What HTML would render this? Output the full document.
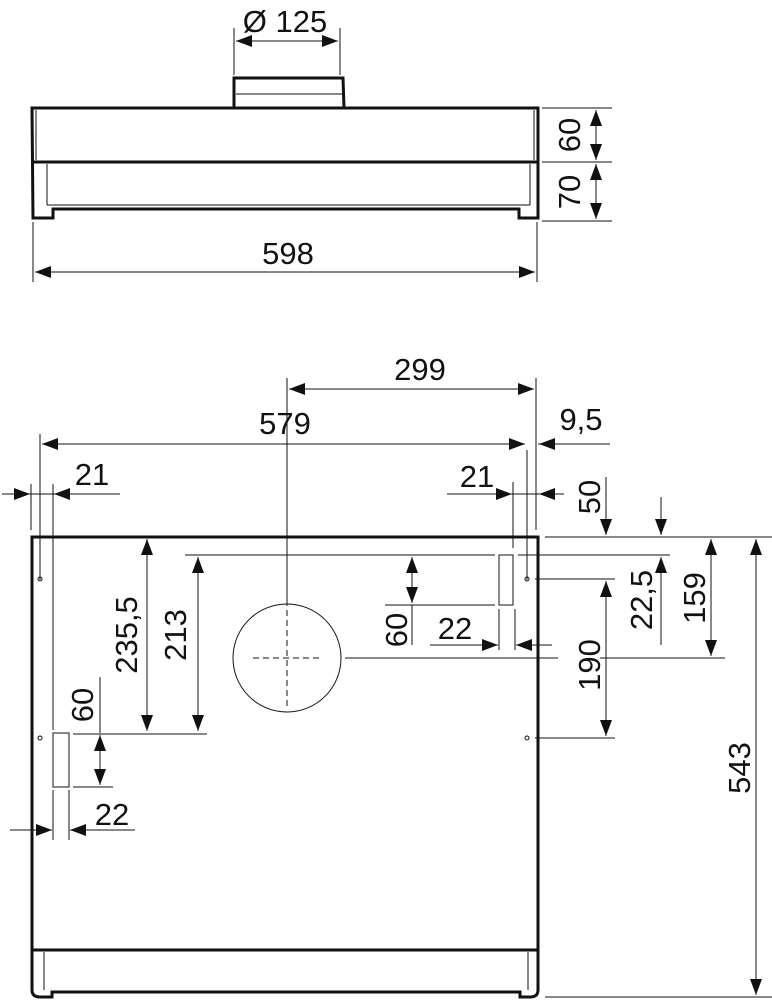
<!DOCTYPE html>
<html><head><meta charset="utf-8"><style>
html,body{margin:0;padding:0;background:#fff}
svg{display:block}
text{font-family:"Liberation Sans Narrow","Liberation Sans",sans-serif;font-size:31px;fill:#111}
.t{stroke:#111;stroke-width:1;fill:none}
.k{stroke:#111;stroke-width:3;fill:none}
</style></head><body>
<svg width="772" height="1000" viewBox="0 0 772 1000" xmlns="http://www.w3.org/2000/svg">
<defs>
<marker id="a" markerUnits="userSpaceOnUse" markerWidth="18" markerHeight="12" refX="16" refY="6" orient="auto-start-reverse"><path d="M0,0 L16,6 L0,12 Z" fill="#111"/></marker>
</defs>

<!-- TOP VIEW -->
<text x="285" y="32" text-anchor="middle">Ø 125</text>
<line class="t" x1="234" y1="28" x2="234" y2="75"/>
<line class="t" x1="340" y1="28" x2="340" y2="75"/>
<line class="t" x1="236" y1="41" x2="338" y2="41" marker-start="url(#a)" marker-end="url(#a)"/>
<path class="k" d="M234,108 L234,78 L343,78 L344,108"/>
<line class="t" x1="236" y1="94" x2="342" y2="94"/>
<path class="k" d="M32,108 L538,108 L538,218 L519,218 L519,209 L53,209 L53,218 L33,218 Z"/>
<line class="k" x1="32" y1="162" x2="538" y2="162"/>
<line class="t" x1="36" y1="110" x2="36" y2="160"/>
<line class="t" x1="534" y1="110" x2="534" y2="160"/>
<line class="t" x1="47" y1="164" x2="47" y2="205"/>
<line class="t" x1="530" y1="164" x2="530" y2="205"/>
<line class="t" x1="47" y1="205" x2="530" y2="205"/>
<line class="t" x1="542" y1="108" x2="612" y2="108"/>
<line class="t" x1="542" y1="162" x2="612" y2="162"/>
<line class="t" x1="542" y1="221" x2="612" y2="221"/>
<line class="t" x1="596" y1="110" x2="596" y2="160" marker-start="url(#a)" marker-end="url(#a)"/>
<line class="t" x1="596" y1="164" x2="596" y2="219" marker-start="url(#a)" marker-end="url(#a)"/>
<text transform="translate(580,135) rotate(-90)" text-anchor="middle">60</text>
<text transform="translate(580,192) rotate(-90)" text-anchor="middle">70</text>
<line class="t" x1="33" y1="222" x2="33" y2="282"/>
<line class="t" x1="537" y1="222" x2="537" y2="282"/>
<line class="t" x1="35" y1="272" x2="535" y2="272" marker-start="url(#a)" marker-end="url(#a)"/>
<text x="288" y="264" text-anchor="middle">598</text>

<!-- BOTTOM VIEW -->
<path class="k" d="M32,537 L538,537 L538,990 Q538,997 530,997 L520,997 L520,992 L52,992 L52,997 L40,997 Q32,997 32,990 Z"/>
<line class="k" x1="32" y1="950" x2="538" y2="950"/>
<line class="t" x1="44" y1="952" x2="44" y2="990"/>
<line class="t" x1="528" y1="952" x2="528" y2="990"/>

<text x="420" y="380" text-anchor="middle">299</text>
<line class="t" x1="287" y1="378" x2="287" y2="606"/>
<line class="t" x1="536" y1="378" x2="536" y2="530"/>
<line class="t" x1="289" y1="389" x2="534" y2="389" marker-start="url(#a)" marker-end="url(#a)"/>
<text x="285" y="434" text-anchor="middle">579</text>
<line class="t" x1="40" y1="434" x2="40" y2="580"/>
<line class="t" x1="527" y1="450" x2="527" y2="580"/>
<line class="t" x1="42" y1="444" x2="525" y2="444" marker-start="url(#a)" marker-end="url(#a)"/>
<text x="581" y="430" text-anchor="middle">9,5</text>
<line class="t" x1="538" y1="444" x2="610" y2="444"/>
<line class="t" x1="557" y1="444" x2="539" y2="444" marker-end="url(#a)"/>
<circle cx="40" cy="579" r="2" class="t"/><circle cx="40" cy="738" r="2" class="t"/>
<circle cx="527" cy="579" r="2" class="t"/><circle cx="527" cy="738" r="2" class="t"/>
<text x="92" y="485" text-anchor="middle">21</text>
<line class="t" x1="31" y1="484" x2="31" y2="530"/>
<line class="t" x1="53" y1="484" x2="53" y2="730"/>
<line class="t" x1="2" y1="494" x2="30" y2="494" marker-end="url(#a)"/>
<line class="t" x1="120" y1="494" x2="54" y2="494" marker-end="url(#a)"/>
<line class="t" x1="30" y1="494" x2="54" y2="494"/>
<text x="477" y="487" text-anchor="middle">21</text>
<line class="t" x1="513" y1="482" x2="513" y2="548"/>
<line class="t" x1="447" y1="494" x2="512" y2="494" marker-end="url(#a)"/>
<line class="t" x1="564" y1="494" x2="539" y2="494" marker-end="url(#a)"/>
<line class="t" x1="512" y1="494" x2="540" y2="494"/>
<rect x="499" y="555" width="14" height="50" class="t"/>
<rect x="53" y="733" width="16" height="54" class="t"/>
<line class="t" x1="545" y1="537" x2="772" y2="537"/>
<line class="t" x1="185" y1="555" x2="495" y2="555"/>
<line class="t" x1="518" y1="555" x2="670" y2="555"/>
<line class="t" x1="535" y1="579" x2="615" y2="579"/>
<line class="t" x1="345" y1="658" x2="558" y2="658"/>
<line class="t" x1="600" y1="658" x2="725" y2="658"/>
<line class="t" x1="535" y1="738" x2="615" y2="738"/>
<line class="t" x1="606" y1="477" x2="606" y2="535" marker-end="url(#a)"/>
<line class="t" x1="606" y1="581" x2="606" y2="736" marker-start="url(#a)" marker-end="url(#a)"/>
<text transform="translate(600,497) rotate(-90)" text-anchor="middle">50</text>
<text transform="translate(600,665) rotate(-90)" text-anchor="middle">190</text>
<line class="t" x1="661" y1="497" x2="661" y2="535" marker-end="url(#a)"/>
<line class="t" x1="661" y1="645" x2="661" y2="557" marker-end="url(#a)"/>
<text transform="translate(652,600) rotate(-90)" text-anchor="middle">22,5</text>
<line class="t" x1="711" y1="539" x2="711" y2="656" marker-start="url(#a)" marker-end="url(#a)"/>
<text transform="translate(705,598) rotate(-90)" text-anchor="middle">159</text>
<line class="t" x1="756" y1="539" x2="756" y2="995" marker-start="url(#a)" marker-end="url(#a)"/>
<line class="t" x1="545" y1="997" x2="772" y2="997"/>
<text transform="translate(750,768) rotate(-90)" text-anchor="middle">543</text>
<circle cx="287" cy="658" r="54" class="t"/>
<line class="t" x1="287" y1="610" x2="287" y2="706" stroke-dasharray="6,4"/>
<line class="t" x1="253" y1="658" x2="321" y2="658" stroke-dasharray="6,4"/>
<line class="t" x1="147" y1="539" x2="147" y2="731" marker-start="url(#a)" marker-end="url(#a)"/>
<text transform="translate(137,635) rotate(-90)" text-anchor="middle">235,5</text>
<line class="t" x1="198" y1="557" x2="198" y2="731" marker-start="url(#a)" marker-end="url(#a)"/>
<text transform="translate(186,635) rotate(-90)" text-anchor="middle">213</text>
<line class="t" x1="73" y1="734" x2="207" y2="734"/>
<line class="t" x1="100" y1="677" x2="100" y2="733"/>
<line class="t" x1="100" y1="735" x2="100" y2="785" marker-start="url(#a)" marker-end="url(#a)"/>
<line class="t" x1="73" y1="787" x2="113" y2="787"/>
<text transform="translate(93,705) rotate(-90)" text-anchor="middle">60</text>
<line class="t" x1="53" y1="790" x2="53" y2="840"/>
<line class="t" x1="69" y1="790" x2="69" y2="840"/>
<line class="t" x1="10" y1="830" x2="52" y2="830" marker-end="url(#a)"/>
<line class="t" x1="135" y1="830" x2="70" y2="830" marker-end="url(#a)"/>
<text x="112" y="825" text-anchor="middle">22</text>
<line class="t" x1="412" y1="557" x2="412" y2="603" marker-start="url(#a)" marker-end="url(#a)"/>
<line class="t" x1="412" y1="605" x2="412" y2="645"/>
<line class="t" x1="385" y1="605" x2="495" y2="605"/>
<text transform="translate(407,630) rotate(-90)" text-anchor="middle">60</text>
<line class="t" x1="499" y1="609" x2="499" y2="650"/>
<line class="t" x1="515" y1="609" x2="515" y2="650"/>
<line class="t" x1="430" y1="645" x2="498" y2="645" marker-end="url(#a)"/>
<line class="t" x1="552" y1="645" x2="516" y2="645" marker-end="url(#a)"/>
<text x="455" y="639" text-anchor="middle">22</text>
</svg>
</body></html>
